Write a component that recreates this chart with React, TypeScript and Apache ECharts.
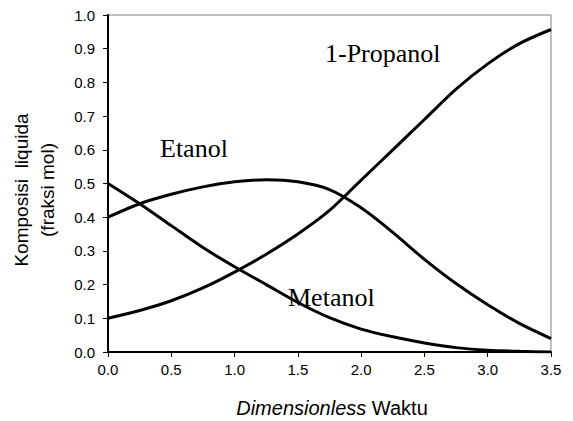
import React, { useEffect, useRef } from "react";
import * as echarts from "echarts";

const xValues = [0, 0.25, 0.5, 0.75, 1.0, 1.25, 1.5, 1.75, 2.0, 2.25, 2.5, 2.75, 3.0, 3.25, 3.5];
const metanol = [0.5, 0.44, 0.375, 0.31, 0.253, 0.2, 0.147, 0.102, 0.068, 0.045, 0.027, 0.013, 0.005, 0.002, 0.0];
const etanol = [0.4, 0.44, 0.468, 0.49, 0.505, 0.511, 0.505, 0.482, 0.428, 0.355, 0.275, 0.203, 0.14, 0.085, 0.04];
const propanol = [0.1, 0.123, 0.152, 0.19, 0.237, 0.29, 0.35, 0.42, 0.51, 0.6, 0.69, 0.78, 0.855, 0.915, 0.957];

const seriesNames = ["Metanol", "Etanol", "1-Propanol"];
const xTitleItalic = "Dimensionless";
const xTitleRest = " Waktu";
const yTitleLines = ["Komposisi  liquida", "(fraksi mol)"];

const pair = (ys: number[]) => xValues.map((x, i) => [x, ys[i]]);

export default function App() {
  const ref = useRef<HTMLDivElement>(null);
  useEffect(() => {
    if (!ref.current) return;
    const chart = echarts.init(ref.current, undefined, { renderer: "svg" });
    const sans = "Arial, 'Liberation Sans', Helvetica, sans-serif";
    const serif = "'Times New Roman', 'Liberation Serif', serif";
    const lineStyle = { color: "#000", width: 3 };
    chart.setOption({
      animation: false,
      backgroundColor: "#fff",
      grid: {
        left: 108,
        right: 22,
        top: 15,
        bottom: 69,
        show: true,
        borderColor: "#808080",
        borderWidth: 1,
      },
      xAxis: {
        type: "value",
        min: 0,
        max: 3.5,
        interval: 0.5,
        axisLine: { show: true, onZero: false, lineStyle: { color: "#000", width: 2 } },
        axisTick: { show: true, inside: false, length: 5, lineStyle: { color: "#000", width: 1 } },
        axisLabel: {
          formatter: (v: number) => v.toFixed(1),
          color: "#000",
          fontFamily: sans,
          fontSize: 15,
          margin: 10,
        },
        splitLine: { show: false },
      },
      yAxis: {
        type: "value",
        min: 0,
        max: 1,
        interval: 0.1,
        axisLine: { show: true, onZero: false, lineStyle: { color: "#000", width: 2 } },
        axisTick: { show: true, inside: false, length: 5, lineStyle: { color: "#000", width: 1 } },
        axisLabel: {
          formatter: (v: number) => v.toFixed(1),
          color: "#000",
          fontFamily: sans,
          fontSize: 15,
          margin: 13,
        },
        splitLine: { show: false },
      },
      series: [
        { name: seriesNames[0], type: "line", data: pair(metanol), smooth: 0.3, showSymbol: false, lineStyle, itemStyle: { color: "#000" } },
        { name: seriesNames[1], type: "line", data: pair(etanol), smooth: 0.3, showSymbol: false, lineStyle, itemStyle: { color: "#000" } },
        { name: seriesNames[2], type: "line", data: pair(propanol), smooth: 0.3, showSymbol: false, lineStyle, itemStyle: { color: "#000" } },
      ],
      graphic: [
        {
          type: "text",
          x: 160,
          y: 148,
          style: { text: seriesNames[1], font: `26px ${serif}`, fill: "#000", verticalAlign: "middle", align: "left" },
        },
        {
          type: "text",
          x: 325,
          y: 53,
          style: { text: seriesNames[2], font: `26px ${serif}`, fill: "#000", verticalAlign: "middle", align: "left" },
        },
        {
          type: "text",
          x: 288,
          y: 297,
          style: { text: seriesNames[0], font: `26px ${serif}`, fill: "#000", verticalAlign: "middle", align: "left" },
        },
        {
          type: "text",
          x: 34,
          y: 190,
          rotation: Math.PI / 2,
          style: {
            text: yTitleLines.join("\n"),
            font: `19px ${sans}`,
            lineHeight: 26,
            fill: "#000",
            align: "center",
            verticalAlign: "middle",
          },
        },
        {
          type: "text",
          x: 332,
          y: 408,
          style: {
            text: `{i|${xTitleItalic}}{n|${xTitleRest}}`,
            rich: {
              i: { fontStyle: "italic", fontSize: 20, fontFamily: sans, fill: "#000" },
              n: { fontSize: 20, fontFamily: sans, fill: "#000" },
            },
            fill: "#000",
            align: "center",
            verticalAlign: "middle",
          },
        },
      ],
    });
    return () => chart.dispose();
  }, []);
  return (
    <div
      ref={ref}
      style={{ position: "fixed", left: 0, top: 0, width: 573, height: 421 }}
    />
  );
}
